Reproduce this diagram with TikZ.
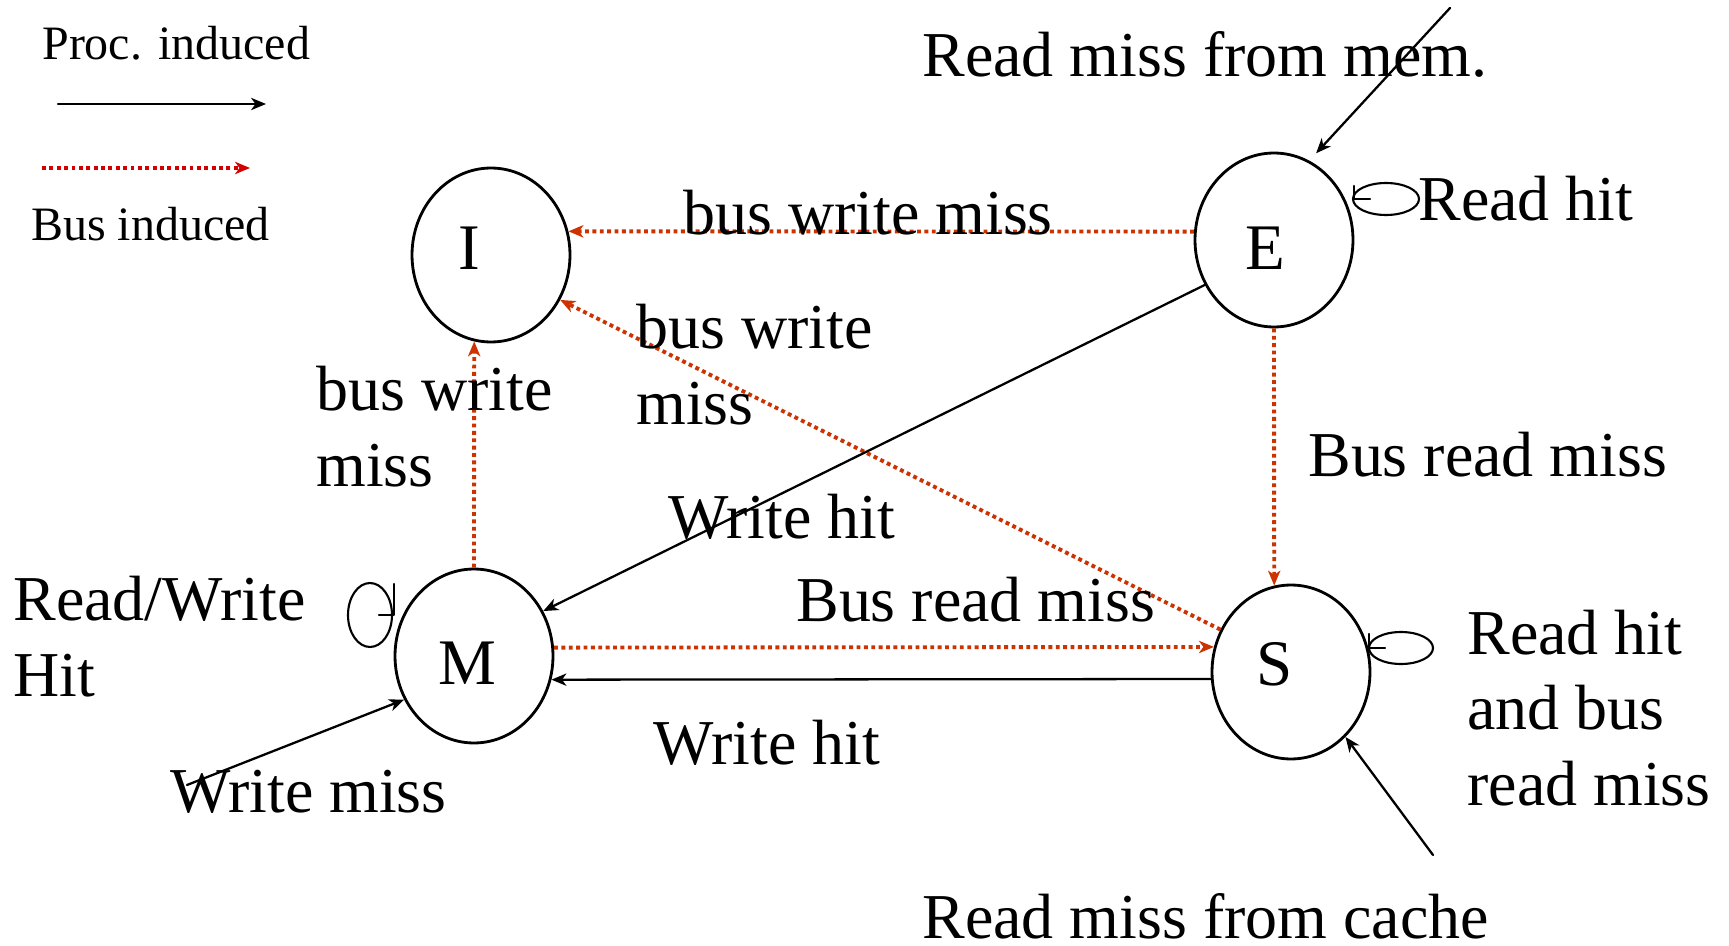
\documentclass[tikz,border=0pt]{standalone}
\usepackage{fontspec}
\setmainfont{Liberation Serif}
\usepackage{tikz}
\usetikzlibrary{arrows.meta,shapes.geometric}
\definecolor{busred}{RGB}{204,51,0}
\definecolor{legendred}{RGB}{210,0,0}

\begin{document}
\begin{tikzpicture}[line cap=round,line join=round,>={Stealth[length=8.5pt,width=7pt,inset=2.5pt]},x=0.02cm,y=-0.02cm,
  state/.style={draw,ellipse,line width=1.6pt,minimum width=3.16cm,minimum height=3.48cm,inner sep=0pt},
  letter/.style={anchor=base,inner sep=0pt,font=\fontsize{37}{44}\selectfont},
  lbl/.style={anchor=base west,inner sep=0pt,align=left,font=\fontsize{36.4}{42.7}\selectfont},
  leg/.style={anchor=base west,inner sep=0pt,font=\fontsize{27.3}{32}\selectfont},
  proc/.style={->,line width=1.3pt,color=black},
  bus/.style={->,line width=2.2pt,line cap=butt,color=busred,dash pattern=on 2.2pt off 2pt}]
\useasboundingbox (0,0) rectangle (1729,946);
%\draw [help lines, step=100] (0,0) grid (1729,946);
% legend
\node[leg] (procl) at (42,60) {Proc. induced};
\node[leg] (busl) at (31,240) {Bus induced};
\coordinate (proca) at (58,104);
\coordinate (procb) at (266,104);
\coordinate (busa) at (42,168);
\coordinate (busb) at (250,168);
\draw[proc] (proca) -- (procb);
\draw[bus,color=legendred] (busa) -- (busb);
% states
\node[state] (I) at (491,255) {};
\node[state] (E) at (1274,240) {};
\node[state] (M) at (474,656) {};
\node[state] (S) at (1291,672) {};
\node[letter] (Il) at (469,269) {I};
\node[letter] (El) at (1265,270) {E};
\node[letter] (Ml) at (467,684) {M};
\node[letter] (Sl) at (1275,685) {S};
\coordinate (mem) at (1450,8);
\coordinate (cache) at (1433,855);
\coordinate (wmiss) at (187,785);
% transitions
\draw[bus] (E.174) -- (I.17);
\draw[bus] (S.149) -- (I.-33);
\draw[bus] (E.south) -- (S.101);
\draw[bus] (M.north) -- (I.-101);
\draw[bus] (M.6) -- (S.162);
\draw[proc] (S.185) -- (M.-17);
\draw[proc] (E.213) -- (M.33);
\draw[proc] (wmiss) -- (M.212);
\draw[proc,shorten >=0.2cm] (mem) -- (E.66);
\draw[proc] (cache) -- (S.-50);
% self loops
\draw[line width=1.2pt] (1386,199) ellipse [x radius=33, y radius=16];
\draw[line width=1.2pt] (1354,186) -- (1354,199) -- (1370,199);
\draw[line width=1.2pt] (1401,648) ellipse [x radius=32, y radius=16];
\draw[line width=1.2pt] (1369,634) -- (1369,648) -- (1385,648);
\draw[line width=1.2pt] (370,615) ellipse [x radius=22, y radius=32];
\draw[line width=1.2pt] (394,584) -- (394,615) -- (379,615);
% labels (multi-line ones sit on their last baseline)
\node[lbl] (lmem) at (922,77) {Read miss from mem.};
\node[lbl] (lrhe) at (1418,220) {Read hit};
\node[lbl] (lbwm) at (683,235) {bus write miss};
\node[lbl] (lbws) at (636,424) {bus write\\miss};
\node[lbl] (lbwi) at (316,486) {bus write\\miss};
\node[lbl] (lbrs) at (1308,476) {Bus read miss};
\node[lbl] (lwhe) at (668,538) {Write hit};
\node[lbl] (lrwh) at (13,696) {Read/Write\\Hit};
\node[lbl] (lbrm) at (796,621) {Bus read miss};
\node[lbl] (lwhs) at (653,764) {Write hit};
\node[lbl] (lwm) at (170,812) {Write miss};
\node[lbl] (lrhs) at (1467,805) {Read hit\\and bus\\read miss};
\node[lbl] (lcache) at (922,938) {Read miss from cache};
\end{tikzpicture}
\end{document}
